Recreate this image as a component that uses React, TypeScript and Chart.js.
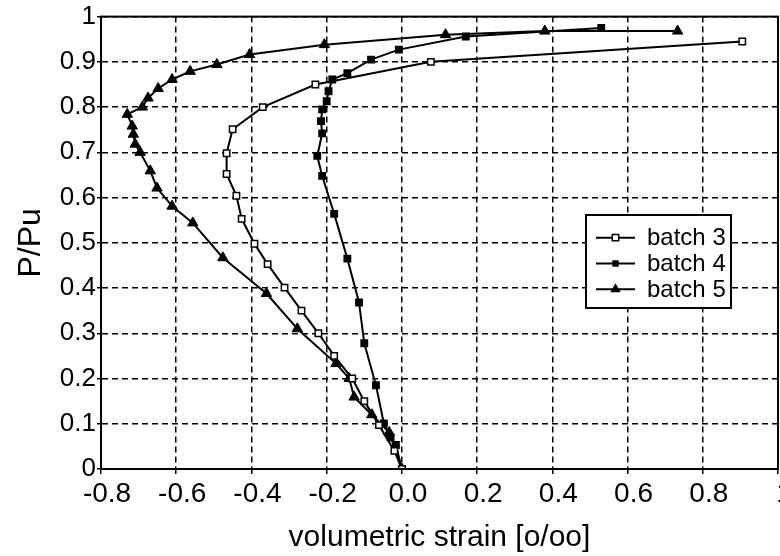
import { useEffect, useRef } from "react";
import { Chart, registerables } from "chart.js";

Chart.register(...registerables);

// Volumetric strain [o/oo] against relative load P/Pu, per batch
const batch3Strain = [0, -0.02, -0.061, -0.1, -0.132, -0.18, -0.222, -0.267, -0.312, -0.357, -0.392, -0.426, -0.44, -0.466, -0.466, -0.45, -0.37, -0.23, 0.077, 0.905];
const batch3Load = [0, 0.04, 0.097, 0.15, 0.2, 0.25, 0.3, 0.35, 0.401, 0.453, 0.498, 0.553, 0.604, 0.652, 0.698, 0.751, 0.8, 0.85, 0.9, 0.945];

const batch4Strain = [0, -0.016, -0.03, -0.048, -0.069, -0.1, -0.114, -0.145, -0.18, -0.212, -0.225, -0.212, -0.215, -0.212, -0.2, -0.195, -0.185, -0.145, -0.082, -0.008, 0.17, 0.53];
const batch4Load = [0, 0.053, 0.07, 0.101, 0.185, 0.278, 0.368, 0.465, 0.564, 0.648, 0.692, 0.742, 0.769, 0.795, 0.813, 0.835, 0.861, 0.875, 0.905, 0.927, 0.956, 0.975];

const batch5Strain = [0, -0.034, -0.08, -0.127, -0.14, -0.175, -0.278, -0.36, -0.476, -0.556, -0.611, -0.651, -0.669, -0.696, -0.709, -0.714, -0.717, -0.73, -0.69, -0.675, -0.648, -0.611, -0.563, -0.492, -0.405, -0.206, 0.116, 0.38, 0.733];
const batch5Load = [0, 0.081, 0.12, 0.159, 0.2, 0.233, 0.31, 0.388, 0.467, 0.544, 0.581, 0.621, 0.659, 0.7, 0.718, 0.74, 0.758, 0.784, 0.8, 0.82, 0.841, 0.861, 0.879, 0.894, 0.916, 0.938, 0.96, 0.968, 0.968];

const seriesNames = ["batch 3", "batch 4", "batch 5"];

const xTickValues = [-0.8, -0.6, -0.4, -0.2, 0, 0.2, 0.4, 0.6, 0.8, 1];
const xTickLabels = ["-0.8", "-0.6", "-0.4", "-0.2", "0.0", "0.2", "0.4", "0.6", "0.8", "1"];
const yTickValues = [0, 0.1, 0.2, 0.3, 0.4, 0.5, 0.6, 0.7, 0.8, 0.9, 1];
const yTickLabels = ["0", "0.1", "0.2", "0.3", "0.4", "0.5", "0.6", "0.7", "0.8", "0.9", "1"];

const xTitle = "volumetric strain [o/oo]";
const yTitle = "P/Pu";

const FONT = "'Liberation Sans', Arial, Helvetica, sans-serif";

const zip = (xs: number[], ys: number[]) => xs.map((x, i) => ({ x, y: ys[i] }));

type MarkerKind = "openSquare" | "square" | "triangle";
const markerKinds: MarkerKind[] = ["openSquare", "square", "triangle"];

function drawMarker(ctx: CanvasRenderingContext2D, kind: MarkerKind, x: number, y: number) {
  ctx.save();
  ctx.lineWidth = 1.5;
  ctx.strokeStyle = "#000";
  ctx.fillStyle = "#000";
  if (kind === "triangle") {
    const r = 6;
    ctx.beginPath();
    ctx.moveTo(x, y - r);
    ctx.lineTo(x + r * 0.866, y + r * 0.5);
    ctx.lineTo(x - r * 0.866, y + r * 0.5);
    ctx.closePath();
    ctx.fill();
  } else {
    const s = 3.2;
    ctx.beginPath();
    ctx.rect(x - s, y - s, 2 * s, 2 * s);
    if (kind === "openSquare") {
      ctx.fillStyle = "#fff";
      ctx.fill();
      ctx.stroke();
    } else {
      ctx.fill();
    }
  }
  ctx.restore();
}

// Solid frame round the plot area plus the boxed key inside it
const frameAndKey = {
  id: "frameAndKey",
  afterDraw(chart: any) {
    const { ctx, chartArea, scales } = chart;
    ctx.save();
    ctx.strokeStyle = "#000";
    ctx.lineWidth = 2;
    ctx.strokeRect(chartArea.left, chartArea.top, chartArea.right - chartArea.left, chartArea.bottom - chartArea.top);

    const xs = scales.x;
    const ys = scales.y;
    const left = Math.round(xs.getPixelForValue(0.49));
    const right = Math.round(xs.getPixelForValue(0.876));
    const top = Math.round(ys.getPixelForValue(0.562));
    const bottom = Math.round(ys.getPixelForValue(0.355));
    ctx.fillStyle = "#fff";
    ctx.fillRect(left, top, right - left, bottom - top);
    ctx.strokeRect(left, top, right - left, bottom - top);

    const rowH = (bottom - top) / 3.6;
    ctx.font = `24px ${FONT}`;
    ctx.textBaseline = "middle";
    ctx.textAlign = "left";
    seriesNames.forEach((name, i) => {
      const cy = top + rowH * (0.8 + i) + 2;
      const x0 = left + 10;
      const x1 = left + 49;
      ctx.beginPath();
      ctx.lineWidth = 2;
      ctx.moveTo(x0, cy);
      ctx.lineTo(x1, cy);
      ctx.stroke();
      drawMarker(ctx, markerKinds[i], (x0 + x1) / 2, cy);
      ctx.fillStyle = "#000";
      ctx.fillText(name, left + 61, cy + 1);
    });
    ctx.restore();
  },
};

export default function App() {
  const canvasRef = useRef<HTMLCanvasElement | null>(null);

  useEffect(() => {
    if (!canvasRef.current) return;
    Chart.defaults.font.family = FONT;
    Chart.defaults.color = "#000";

    const common = {
      showLine: true,
      borderColor: "#000",
      borderWidth: 2,
      tension: 0,
      pointBorderColor: "#000",
      pointBorderWidth: 1.5,
    };

    const chart = new Chart(canvasRef.current, {
      type: "scatter",
      data: {
        datasets: [
          {
            ...common,
            label: seriesNames[0],
            data: zip(batch3Strain, batch3Load),
            pointStyle: "rect",
            pointRadius: 4.5,
            pointBackgroundColor: "#fff",
          },
          {
            ...common,
            label: seriesNames[1],
            data: zip(batch4Strain, batch4Load),
            pointStyle: "rect",
            pointRadius: 4.5,
            pointBackgroundColor: "#000",
          },
          {
            ...common,
            label: seriesNames[2],
            data: zip(batch5Strain, batch5Load),
            pointStyle: "triangle",
            pointRadius: 6,
            pointBorderWidth: 1,
            pointBackgroundColor: "#000",
          },
        ],
      },
      options: {
        animation: false,
        responsive: true,
        maintainAspectRatio: false,
        layout: { padding: { left: 0, top: 15, right: 52, bottom: 0 } },
        plugins: {
          legend: { display: false },
          tooltip: { enabled: false },
        },
        scales: {
          x: {
            type: "linear",
            min: -0.8,
            max: 1,
            afterBuildTicks: (scale: any) => {
              scale.ticks = xTickValues.map((value) => ({ value }));
            },
            afterFit: (scale: any) => {
              scale.height = 87;
            },
            ticks: {
              autoSkip: false,
              maxRotation: 0,
              padding: 3,
              labelOffset: 6,
              font: { size: 28 },
              color: "#000",
              callback: (_v: any, i: number) => xTickLabels[i],
            },
            grid: {
              color: "#000",
              lineWidth: 1.5,
              tickLength: 5,
              tickColor: "#000",
              tickWidth: 1.5,
            },
            border: { display: true, color: "#000", width: 2, dash: [6, 4] },
            title: {
              display: true,
              text: xTitle,
              font: { size: 30 },
              color: "#000",
              padding: { top: 0, bottom: 0 },
            },
          },
          y: {
            type: "linear",
            min: 0,
            max: 1,
            afterBuildTicks: (scale: any) => {
              scale.ticks = yTickValues.map((value) => ({ value }));
            },
            afterFit: (scale: any) => {
              scale.width = 101;
            },
            ticks: {
              autoSkip: false,
              padding: 1,
              font: { size: 26 },
              color: "#000",
              callback: (_v: any, i: number) => yTickLabels[i],
            },
            grid: {
              color: "#000",
              lineWidth: 1.5,
              tickLength: 4,
              tickColor: "#000",
              tickWidth: 1.5,
            },
            border: { display: true, color: "#000", width: 2, dash: [6, 4] },
            title: {
              display: true,
              text: yTitle,
              font: { size: 32 },
              color: "#000",
              padding: { top: 12, bottom: 0 },
            },
          },
        },
      },
      plugins: [frameAndKey],
    } as any);

    return () => chart.destroy();
  }, []);

  return (
    <div
      style={{
        position: "fixed",
        left: 0,
        top: 0,
        width: 780,
        height: 556,
        overflow: "hidden",
        background: "#fff",
      }}
    >
      <div style={{ position: "relative", width: 830, height: 556 }}>
        <canvas ref={canvasRef} />
      </div>
    </div>
  );
}
